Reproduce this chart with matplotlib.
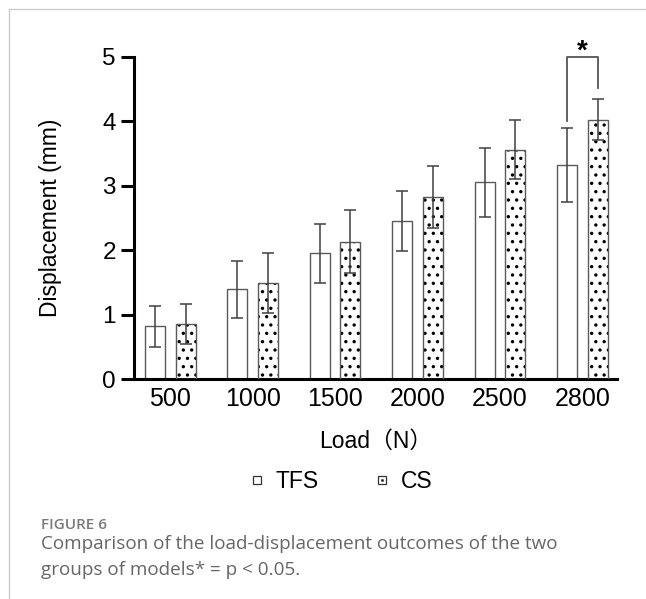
import matplotlib
matplotlib.use("Agg")
import matplotlib.pyplot as plt
from matplotlib.lines import Line2D
import numpy as np

# ---- data ----
loads = ["500", "1000", "1500", "2000", "2500", "2800"]
tfs_mean = [0.82, 1.39, 1.95, 2.45, 3.05, 3.32]
tfs_sd = [0.32, 0.44, 0.46, 0.47, 0.53, 0.58]
cs_mean = [0.86, 1.49, 2.13, 2.82, 3.56, 4.02]
cs_sd = [0.31, 0.46, 0.49, 0.48, 0.46, 0.32]
series_names = ["TFS", "CS"]
y_ticks = [0, 1, 2, 3, 4, 5]

plt.rcParams["hatch.linewidth"] = 1.2
FONT = ["Liberation Sans", "DejaVu Sans"]

fig = plt.figure(figsize=(6.46, 5.99), dpi=100)
ax = fig.add_axes([134/646, 1-379/599, (617-134)/646, (379-56.7)/599])

x = np.arange(len(loads))
w = 0.243
off = 0.1865
edge = "#5a5a5a"
errc = "#404040"

ax.bar(x - off, tfs_mean, w, facecolor="white", edgecolor=edge, linewidth=1.0, zorder=2)
# CS: hatch in black, then grey outline
ax.bar(x + off, cs_mean, w, facecolor="white", edgecolor="black", linewidth=0, hatch="..", zorder=2)
ax.bar(x + off, cs_mean, w, facecolor="none", edgecolor=edge, linewidth=1.0, zorder=3)

ax.errorbar(x - off, tfs_mean, yerr=tfs_sd, fmt="none", ecolor=errc, elinewidth=1.1,
            capsize=4.3, capthick=1.1, zorder=4)
ax.errorbar(x + off, cs_mean, yerr=cs_sd, fmt="none", ecolor=errc, elinewidth=1.1,
            capsize=4.3, capthick=1.1, zorder=4)

# significance bracket for 2800
i = len(loads) - 1
ax.plot([i - off, i - off, i + off, i + off], [4.01, 5.0, 5.0, 4.52], color="#555555",
        lw=1.3, clip_on=False, zorder=5)
ax.text(i, 4.87, "*", ha="center", va="bottom", fontsize=20, fontweight="bold",
        family=FONT, clip_on=False)

ax.set_xlim(-0.44, 5.42)
ax.set_ylim(0, 5)
ax.set_yticks(y_ticks)
ax.set_yticklabels([str(t) for t in y_ticks])
ax.set_xticks(x)
ax.set_xticklabels(loads)
for s in ["top", "right"]:
    ax.spines[s].set_visible(False)
for s in ["left", "bottom"]:
    ax.spines[s].set_linewidth(2.2)
ax.tick_params(axis="y", length=9.5, width=2.2, labelsize=17.5, pad=3.5)
ax.tick_params(axis="x", length=0, labelsize=18, pad=6)
for lab in ax.get_xticklabels() + ax.get_yticklabels():
    lab.set_family(FONT)

ax.set_ylabel("Displacement (mm)", fontsize=16.5, family=FONT)
ax.yaxis.set_label_coords(-0.149, 0.5)
ax.set_xlabel("Load（N）", fontsize=16.5,
              family=["Liberation Sans", "Noto Sans CJK SC", "DejaVu Sans"], labelpad=13)

h_tfs = Line2D([], [], marker="s", ls="none", mfc="white", mec="#333333", ms=5.5, mew=0.9)
h_cs_sq = Line2D([], [], marker="s", ls="none", mfc="white", mec="#333333", ms=5.5, mew=0.9)
h_cs_dot = Line2D([], [], marker="s", ls="none", mfc="black", mec="black", ms=1.3, mew=0.3)
fig.legend([h_tfs, (h_cs_sq, h_cs_dot)], series_names, loc="center",
           bbox_to_anchor=(340/646, 1-482/599), ncol=2, frameon=False,
           prop={"family": FONT, "size": 16.5}, handlelength=0.8, handletextpad=0.4,
           columnspacing=2.4)

# page frame lines
fig.add_artist(Line2D([9/646, 9/646], [0, 1-9/599], transform=fig.transFigure, color="#cccccc", lw=1))
fig.add_artist(Line2D([9/646, 1], [1-9/599, 1-9/599], transform=fig.transFigure, color="#cccccc", lw=1))

cap_font = ["Open Sans", "DejaVu Sans"]
fig.text(41/646, 1-529/599, "FIGURE 6", fontsize=11, family=cap_font, fontweight="semibold",
         color="#7a7a7a", va="baseline")
fig.text(41/646, 1-549/599, "Comparison of the load-displacement outcomes of the two",
         fontsize=13.6, family=cap_font, color="#666666", va="baseline")
fig.text(41/646, 1-575/599, "groups of models* = p < 0.05.",
         fontsize=13.6, family=cap_font, color="#666666", va="baseline")

fig.savefig("out.png", dpi=100)
